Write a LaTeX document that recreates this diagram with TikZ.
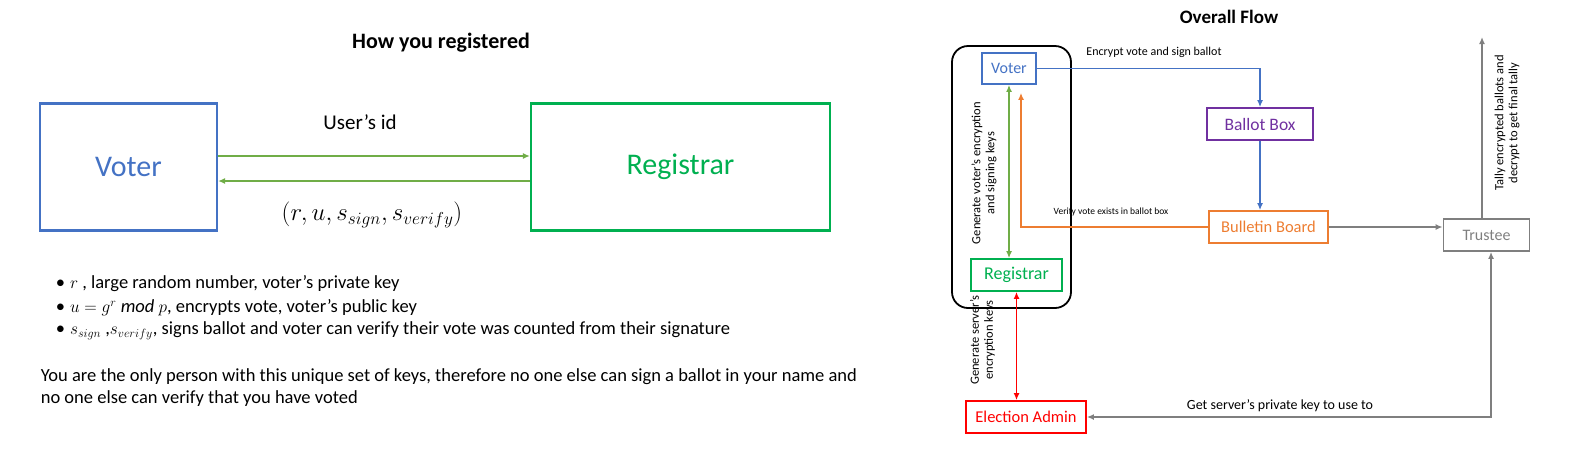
\documentclass[tikz,border=0pt]{standalone}
\usepackage{fontspec}
\setmainfont{Carlito}
\usepackage{amsmath}
\usetikzlibrary{arrows.meta,positioning}

\definecolor{vblue}{HTML}{4472C4}
\definecolor{rgreen}{HTML}{00B050}
\definecolor{lgreen}{HTML}{70AD47}
\definecolor{bpurple}{HTML}{7030A0}
\definecolor{borange}{HTML}{ED7D31}
\definecolor{tgray}{HTML}{7F7F7F}
\definecolor{ared}{HTML}{FF0000}
\newcommand{\sz}[1]{\fontsize{#1}{#1}\selectfont}

\begin{document}
\begin{tikzpicture}[x=1pt, y=-1pt, ->, >={Latex[length=7pt,width=6pt]}, line width=1.7pt,
  bigbox/.style={draw, line width=2.2pt, font=\sz{30}},
  smallbox/.style={draw, line width=1.8pt, minimum height=32, inner sep=0pt},
  lbl/.style={inner sep=0pt},
  sidelbl/.style={inner sep=0pt, rotate=90, align=center, font=\fontsize{12.5}{14}\selectfont}]
  \useasboundingbox (0,0) rectangle (1569,459);

  % how you registered
  \node[lbl, font=\bfseries\sz{22}] (title1) at (441,43) {How you registered};
  \node[bigbox, vblue, minimum width=177, minimum height=127] (voterL) at (128.5,167) {Voter};
  \node[bigbox, rgreen, minimum width=299, minimum height=127] (regL) at (680.5,167) {Registrar};
  \node[lbl, font=\sz{21}] (userid) at (360,122) {User’s id};
  \node[lbl, font=\sz{24}] (keys) at (372,215) {$(r,u,s_{sign},s_{verify})$};

  \coordinate (idout) at ([yshift=11pt]voterL.east);
  \coordinate (keysin) at ([yshift=-14pt]regL.west);
  \path (idout) edge[lgreen] (idout -| regL.west)
        (keysin) edge[lgreen] (keysin -| voterL.east);

  \node[lbl, anchor=west, font=\sz{18.5}] (item1) at (55,284) {\textbullet\hspace{5pt}$r$ , large random number, voter’s private key};
  \node[lbl, anchor=west, font=\sz{18.5}] (item2) at (55,308) {\textbullet\hspace{5pt}$u=g^{r}\ \mathit{mod}\ p$, encrypts vote, voter’s public key};
  \node[lbl, anchor=west, font=\sz{18.5}] (item3) at (55,331) {\textbullet\hspace{5pt}$s_{sign}$ ,$s_{verify}$, signs ballot and voter can verify their vote was counted from their signature};
  \node[lbl, anchor=west, font=\sz{18.5}] (para1) at (40,377) {You are the only person with this unique set of keys, therefore no one else can sign a ballot in your name and};
  \node[lbl, anchor=west, font=\sz{18.5}] (para2) at (40,399) {no one else can verify that you have voted};

  % overall flow
  \node[lbl, font=\bfseries\sz{19}] (title2) at (1229,17) {Overall Flow};
  \node[draw, line width=1.8pt, rounded corners=16pt, minimum width=119, minimum height=262] (group) at (1011.5,177) {};
  \node[smallbox, vblue, minimum width=54, minimum height=31, font=\sz{16}] (voterR) at (1009,68.5) {Voter};
  \node[smallbox, rgreen, minimum width=91, font=\sz{18}] (regR) at (1016.5,275) {Registrar};
  \node[smallbox, bpurple, minimum width=106, font=\sz{17.5}] (ballot) at (1260,124) {Ballot Box};
  \node[smallbox, borange, minimum width=119, font=\sz{16.5}] (bulletin) at (1268.5,227) {Bulletin Board};
  \node[smallbox, tgray, minimum width=86, font=\sz{16}] (trustee) at (1486.5,235) {Trustee};
  \node[smallbox, ared, minimum width=120, font=\sz{16.5}] (admin) at (1026,417) {Election Admin};
  \coordinate (tallytop) at (1482,37);

  \node[lbl, font=\sz{12}] (encl) at (1154,52) {Encrypt vote and sign ballot};
  \node[lbl, font=\sz{9.5}] (verl) at (1111,212) {Verify vote exists in ballot box};
  \node[lbl, font=\sz{14}] (getl) at (1280,406) {Get server’s private key to use to};
  \node[sidelbl] (genv) at (984,173) {Generate voter’s encryption\\and signing keys};
  \node[sidelbl] (gens) at (982.5,340) {Generate server’s\\encryption keys};
  \node[sidelbl] (tally) at (1507,123) {Tally encrypted ballots and\\decrypt to get final tally};

  \path (voterR.east) edge[vblue, to path={-| (\tikztotarget)}] (ballot.north)
        (ballot.south) edge[vblue] (ballot.south |- bulletin.north)
        (bulletin.west) edge[borange, shorten >=8pt, to path={-| (\tikztotarget)}] ([xshift=12pt]voterR.south)
        (voterR.south) edge[lgreen, <->] (voterR.south |- regR.north)
        (regR.south) edge[ared, <->] (regR.south |- admin.north)
        (bulletin.east) edge[tgray] (bulletin.east -| trustee.west)
        ([xshift=-4.5pt]trustee.north) edge[tgray] (tallytop)
        (admin.east) edge[tgray, <->, to path={-| (\tikztotarget)}] ([xshift=4.5pt]trustee.south);
\end{tikzpicture}
\end{document}
